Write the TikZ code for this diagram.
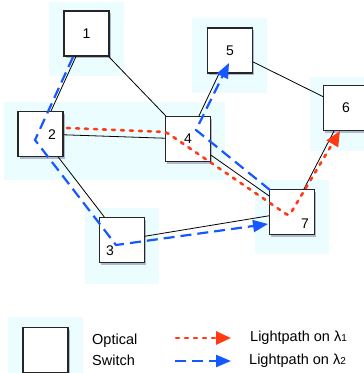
\documentclass[tikz,border=0pt]{standalone}
\usepackage{fontspec}
\setmainfont{Liberation Sans}
\usetikzlibrary{arrows.meta,shadows}

\definecolor{haloblue}{RGB}{236,253,255}
\definecolor{pathred}{RGB}{255,58,20}
\definecolor{pathblue}{RGB}{22,88,255}
\definecolor{shadowblue}{RGB}{95,105,160}

\begin{document}
\begin{tikzpicture}[x=1pt,y=-1pt,
        switch/.style={draw=black!85,line width=1.1pt,fill=white,minimum size=45pt,inner sep=0pt,
            drop shadow={shadow xshift=1.5pt,shadow yshift=-2pt,fill=shadowblue,opacity=0.45},
            font=\fontsize{14}{14}\selectfont},
        numlabel/.style={font=\fontsize{14}{14}\selectfont,inner sep=0pt},
        halo/.style={fill=haloblue,draw=none},
        link/.style={black,line width=0.8pt},
        lambdaone/.style={pathred,line width=2.6pt,line cap=round,dash pattern=on 3pt off 6pt,
            -{Triangle[length=15pt,width=13pt]}},
        lambdatwo/.style={pathblue,line width=2.2pt,dash pattern=on 11pt off 6pt,
            -{Triangle[length=15pt,width=12pt]}},
        keytext/.style={font=\fontsize{14.5}{21}\selectfont,inner sep=0pt}
    ]
        \useasboundingbox (0,0) rectangle (364,373);

        % light background behind the switches
        \fill[halo] (49,2)   rectangle (124,76);
        \fill[halo] (4,102)  rectangle (225,180);
        \fill[halo] (192,18) rectangle (267,93);
        \fill[halo] (310,77) rectangle (364,151);
        \fill[halo] (85,208) rectangle (159,284);
        \fill[halo] (255,180) rectangle (329,254);
        \fill[halo] (8,317)  rectangle (83,380);

        % switches
        \node[switch] (n1) at (86.5,33.5) {1};
        \node[switch,label={[numlabel,xshift=11.5pt,yshift=-1pt]center:2}] (n2) at (40.5,134) {};
        \node[switch,label={[numlabel,xshift=-12pt,yshift=-11pt]center:3}] (n3) at (122,240) {};
        \node[switch] (n4) at (188,139) {4};
        \node[switch] (n5) at (230,50.5) {5};
        \node[switch] (n6) at (346,108) {6};
        \node[switch,label={[numlabel,xshift=13pt,yshift=-12pt]center:7}] (n7) at (292,212) {};

        % fibre links
        \draw[link] (n1) -- (n2);
        \draw[link] (n1) -- (n4);
        \draw[link] (n2) -- (n4);
        \draw[link] (n2) -- (n3);
        \draw[link] (n4) -- (n5);
        \draw[link] (n5) -- (n6);
        \draw[link] (n4) -- (n7);
        \draw[link] (n3) -- (n7);
        \draw[link] (n7) -- (n6);

        % lightpath on lambda 1
        \coordinate (r0) at (67,128);
        \coordinate (r1) at (166,132);
        \coordinate (r2) at (289,216);
        \coordinate (r3) at (340,131);
        \draw[lambdaone,rounded corners=3pt] (r0) -- (r1) -- (r2) -- (r3);

        % lightpaths on lambda 2
        \coordinate (b0) at (73,57);
        \coordinate (b1) at (35,140);
        \coordinate (b2) at (116,245);
        \coordinate (b3) at (268,224);
        \draw[lambdatwo] (b0) -- (b1) -- (b2) -- (b3);

        \coordinate (c0) at (270,190);
        \coordinate (c1) at (196,130);
        \coordinate (c2) at (229,63);
        \draw[lambdatwo] (c0) -- (c1) -- (c2);

        % legend
        \node[switch] (key) at (45.5,350) {};
        \node[keytext,align=left,anchor=west] (keyname) at (92,350) {Optical\\Switch};

        \coordinate (k1a) at (176,338);
        \coordinate (k1b) at (231,338);
        \draw[lambdaone] (k1a) -- (k1b);
        \node[keytext,anchor=west] (k1text) at (250,338) {Lightpath on λ{\fontsize{10}{10}\selectfont 1}};

        \coordinate (k2a) at (175,361);
        \coordinate (k2b) at (231,361);
        \draw[lambdatwo] (k2a) -- (k2b);
        \node[keytext,anchor=west] (k2text) at (249,361) {Lightpath on λ{\fontsize{10}{10}\selectfont 2}};
\end{tikzpicture}
\end{document}
